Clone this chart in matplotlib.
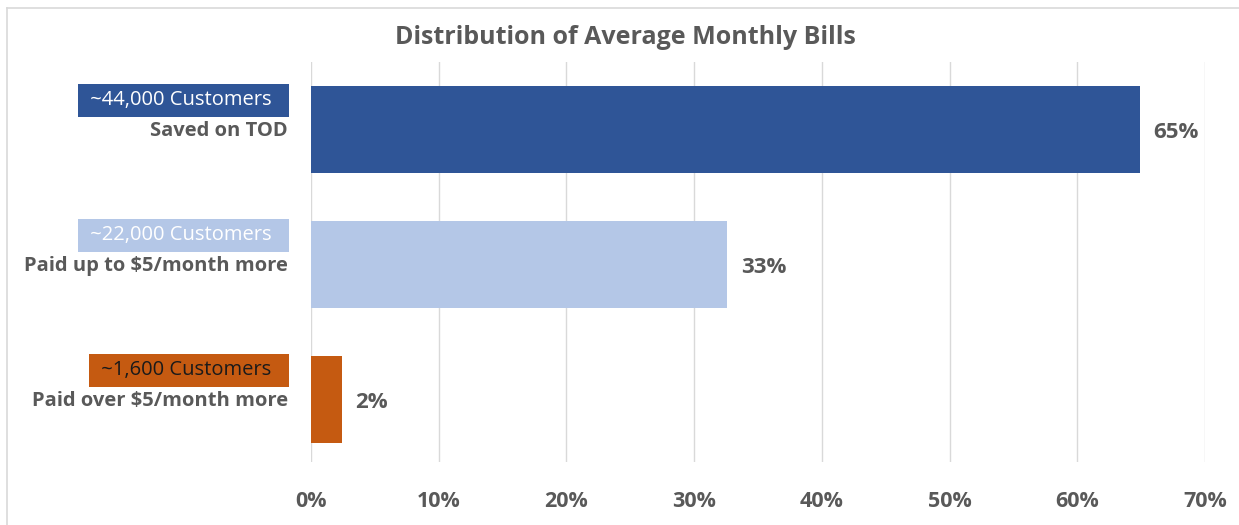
import matplotlib.pyplot as plt
from matplotlib.lines import Line2D
from matplotlib.transforms import blended_transform_factory

# data
groups = ["~44,000 Customers", "~22,000 Customers", "~1,600 Customers"]
outcomes = ["Saved on TOD", "Paid up to $5/month more", "Paid over $5/month more"]
shares = [64.9, 32.6, 2.4]
share_labels = ["65%", "33%", "2%"]
xticks = [0, 10, 20, 30, 40, 50, 60, 70]

colors = ["#2F5597", "#B4C7E7", "#C55A11"]
box_text_colors = ["white", "white", "#1a1a1a"]
grey = "#595959"

plt.rcParams["font.family"] = ["Open Sans", "DejaVu Sans"]

fig = plt.figure(figsize=(12.39, 5.25), dpi=100)
ax = fig.add_axes([311 / 1239, 1 - 462 / 525, (1205 - 311) / 1239, 400 / 525])

ypos = list(range(len(shares)))
ax.barh(ypos, shares, height=0.645, color=colors, zorder=3)

for y, v, lab in zip(ypos, shares, share_labels):
    ax.text(v + 1.05, y + 0.02, lab, va="center", ha="left", fontsize=16,
            fontweight="bold", color=grey)

ax.set_xlim(0, 70)
ax.set_ylim(2.463, -0.5)
ax.set_xticks(xticks)
ax.set_xticklabels([f"{t}%" for t in xticks], fontsize=15.5, fontweight="bold",
                   color=grey)
ax.tick_params(axis="x", length=0, pad=21)
ax.set_yticks([])
ax.grid(axis="x", color="#D9D9D9", linewidth=1, zorder=0)
for s in ax.spines.values():
    s.set_visible(False)

# left-hand labels
tr = blended_transform_factory(fig.transFigure, ax.transData)
for y, g, o, c, tc in zip(ypos, groups, outcomes, colors, box_text_colors):
    ax.text(282 / 1239, y - 0.215, " " + g + "  ", transform=tr, ha="right",
            va="center", fontsize=14.5, color=tc,
            bbox=dict(boxstyle="square,pad=0.34", fc=c, ec="none"))
    ax.text(288 / 1239, y + 0.01, o, transform=tr, ha="right", va="center",
            fontsize=14.5, fontweight="bold", color=grey)

fig.text(625 / 1239, 1 - 38 / 525, "Distribution of Average Monthly Bills",
         ha="center", va="center", fontsize=18, fontweight="bold", color=grey)

# frame (top and left edges only visible)
fig.lines.append(Line2D([7 / 1239, 1], [1 - 8 / 525] * 2, transform=fig.transFigure,
                        color="#D9D9D9", lw=1.2))
fig.lines.append(Line2D([7 / 1239] * 2, [0, 1 - 8 / 525], transform=fig.transFigure,
                        color="#D9D9D9", lw=1.2))

fig.savefig("out.png", dpi=100)
